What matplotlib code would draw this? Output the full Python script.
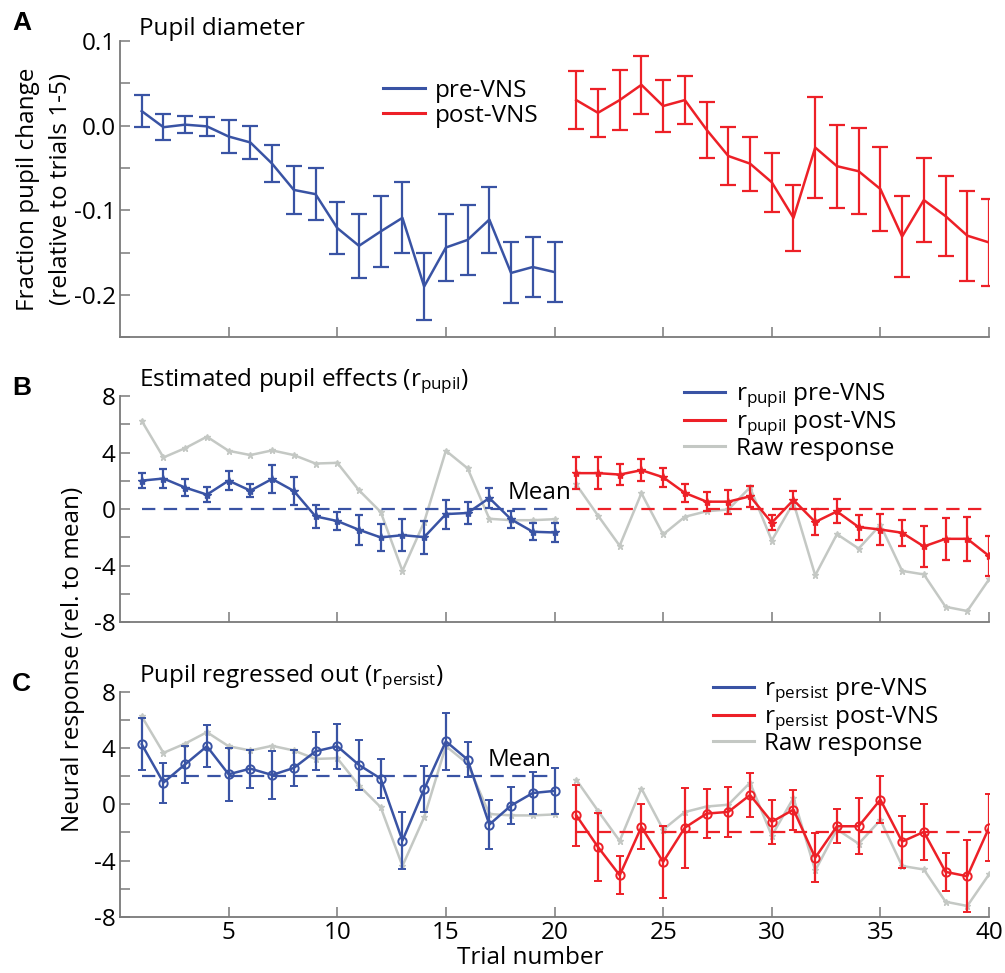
import numpy as np
import matplotlib
matplotlib.use('Agg')
import matplotlib.pyplot as plt
from matplotlib.lines import Line2D

plt.rcParams['font.family'] = ['Open Sans', 'DejaVu Sans']
plt.rcParams['mathtext.fontset'] = 'custom'
plt.rcParams['mathtext.rm'] = 'Open Sans'

# ============================================================
# Data
# ============================================================
trials_pre = np.arange(1, 21)
trials_post = np.arange(21, 41)

pupil_pre = [0.017, -0.002, 0.001, -0.001, -0.013, -0.020, -0.045, -0.076, -0.081, -0.121,
             -0.142, -0.125, -0.109, -0.190, -0.144, -0.135, -0.111, -0.174, -0.167, -0.173]
pupil_pre_err = [0.019, 0.015, 0.010, 0.011, 0.019, 0.019, 0.022, 0.028, 0.031, 0.031,
                 0.038, 0.042, 0.042, 0.039, 0.039, 0.041, 0.039, 0.036, 0.035, 0.035]
pupil_post = [0.030, 0.015, 0.030, 0.048, 0.023, 0.030, -0.005, -0.036, -0.045, -0.067,
              -0.109, -0.026, -0.048, -0.054, -0.075, -0.131, -0.088, -0.107, -0.130, -0.138]
pupil_post_err = [0.034, 0.028, 0.035, 0.034, 0.031, 0.028, 0.033, 0.034, 0.032, 0.035,
                  0.039, 0.060, 0.049, 0.051, 0.050, 0.048, 0.050, 0.047, 0.053, 0.051]

raw_response = [6.24, 3.65, 4.31, 5.12, 4.12, 3.82, 4.15, 3.82, 3.22, 3.27,
                1.33, -0.21, -4.38, -0.92, 4.13, 2.88, -0.69, -0.79, -0.79, -0.72,
                1.74, -0.46, -2.60, 1.12, -1.80, -0.55, -0.16, -0.03, 1.53, -2.23,
                0.45, -4.70, -1.78, -2.80, -1.12, -4.38, -4.63, -6.92, -7.22, -4.98]

rpupil_pre = [2.01, 2.16, 1.52, 1.02, 2.01, 1.30, 2.13, 1.28, -0.52, -0.85,
              -1.47, -2.01, -1.85, -1.99, -0.36, -0.28, 0.78, -0.73, -1.61, -1.66]
rpupil_pre_err = [0.55, 0.67, 0.58, 0.55, 0.69, 0.46, 0.97, 0.97, 0.79, 0.67,
                  1.08, 0.97, 1.13, 1.16, 1.02, 0.77, 0.71, 0.62, 0.59, 0.69]
rpupil_post = [2.54, 2.54, 2.44, 2.75, 2.25, 1.14, 0.52, 0.52, 0.90, -0.97,
               0.64, -0.92, -0.17, -1.28, -1.45, -1.68, -2.65, -2.11, -2.11, -3.32]
rpupil_post_err = [1.13, 1.15, 0.72, 0.76, 0.66, 0.62, 0.68, 0.86, 0.73, 0.55,
                   0.66, 0.89, 0.85, 0.88, 1.10, 0.92, 1.42, 1.47, 1.54, 1.40]

rpersist_pre = [4.26, 1.54, 2.84, 4.12, 2.13, 2.53, 2.08, 2.58, 3.76, 4.12,
                2.79, 1.82, -2.58, 1.07, 4.47, 3.17, -1.44, -0.09, 0.80, 0.95]
rpersist_pre_err = [1.85, 1.42, 1.33, 1.49, 1.90, 1.34, 1.70, 1.25, 1.35, 1.60,
                    1.78, 1.37, 2.05, 1.62, 2.04, 1.23, 1.74, 1.31, 1.46, 1.63]
rpersist_post = [-0.78, -3.03, -5.04, -1.61, -4.09, -1.66, -0.66, -0.54, 0.66, -1.25,
                 -0.38, -3.79, -1.56, -1.56, 0.33, -2.65, -1.96, -4.80, -5.11, -1.66]
rpersist_post_err = [2.15, 2.41, 1.34, 1.60, 2.53, 2.84, 1.72, 1.78, 1.55, 1.54,
                     1.42, 1.75, 1.20, 2.00, 1.66, 1.85, 1.99, 1.37, 2.54, 2.37]

mean_pupil = [0.0, 0.0]       # pre, post
mean_persist = [2.0, -2.0]    # pre, post

# ============================================================
# Styling
# ============================================================
BLUE = '#3953a4'
RED = '#ed2027'
GRAY = '#c4c8c4'
SPINE = '#7a7a7a'
FS = 17.5

fig = plt.figure(figsize=(10.05, 9.73), dpi=100)
left, width = 0.1194, 0.8647
axA = fig.add_axes([left, 0.6533, width, 0.3048])
axB = fig.add_axes([left, 0.3607, width, 0.2323])
axC = fig.add_axes([left, 0.0576, width, 0.2316])


def style_axis(ax):
    for s in ['top', 'right']:
        ax.spines[s].set_visible(False)
    for s in ['left', 'bottom']:
        ax.spines[s].set_color(SPINE)
        ax.spines[s].set_linewidth(1.3)
    ax.tick_params(direction='in', length=7, width=1.1, color=SPINE,
                   labelsize=FS, pad=3)
    ax.set_xlim(0, 40)
    ax.set_xticks(np.arange(5, 41, 5))


def legend_lines(ax, colors, labels, anchor, spacing):
    handles = [Line2D([], [], color=c, lw=2.2) for c in colors]
    ax.legend(handles, labels, loc='upper left', bbox_to_anchor=anchor,
              frameon=False, fontsize=FS, handlelength=1.7, handletextpad=0.42,
              labelspacing=spacing, borderaxespad=0, borderpad=0)


# ------------------------------------------------------------
# A: pupil diameter
# ------------------------------------------------------------
style_axis(axA)
axA.errorbar(trials_pre, pupil_pre, yerr=pupil_pre_err, color=BLUE, lw=1.8,
             elinewidth=1.6, capsize=5.5, capthick=1.6)
axA.errorbar(trials_post, pupil_post, yerr=pupil_post_err, color=RED, lw=1.8,
             elinewidth=1.6, capsize=5.5, capthick=1.6)
yt = np.arange(-0.25, 0.101, 0.05)
axA.set_ylim(-0.25, 0.1)
axA.set_yticks(yt)
axA.set_yticklabels(['' if round(v * 20) % 2 else f'{abs(v) if abs(v) < 1e-9 else v:.1f}'
                     for v in yt])
axA.set_xticklabels([])
axA.set_ylabel('Fraction pupil change\n(relative to trials 1-5)', fontsize=FS,
               linespacing=1.5)
axA.yaxis.set_label_coords(-0.054, 0.5)
legend_lines(axA, [BLUE, RED], ['pre-VNS', 'post-VNS'], (0.303, 0.872), 0.05)
axA.set_title('Pupil diameter', loc='left', fontsize=FS, x=0.022, pad=3)


# ------------------------------------------------------------
# B / C: neural response
# ------------------------------------------------------------
def response_panel(ax, pre, pre_err, post, post_err, means, marker, cap):
    style_axis(ax)
    ax.plot(trials_pre, raw_response[:20], color=GRAY, lw=1.8, marker='*', ms=5,
            zorder=1)
    ax.plot(trials_post, raw_response[20:], color=GRAY, lw=1.8, marker='*', ms=5,
            zorder=1)
    ax.plot([trials_pre[0], trials_pre[-1]], [means[0], means[0]], color=BLUE,
            lw=1.6, linestyle=(0, (6, 3.8)), zorder=2)
    ax.plot([trials_post[0], trials_post[-1]], [means[1], means[1]], color=RED,
            lw=1.6, linestyle=(0, (6, 3.8)), zorder=2)
    mkw = dict(ms=6, mfc='none', mew=1.4) if marker == 'o' else dict(ms=6)
    ax.errorbar(trials_pre, pre, yerr=pre_err, color=BLUE, lw=1.8, marker=marker,
                elinewidth=1.6, capsize=cap, capthick=1.6, zorder=3, **mkw)
    ax.errorbar(trials_post, post, yerr=post_err, color=RED, lw=1.8, marker=marker,
                elinewidth=1.6, capsize=cap, capthick=1.6, zorder=3, **mkw)
    ax.set_ylim(-8, 8)
    ax.set_yticks(np.arange(-8, 9, 2))
    ax.set_yticklabels([str(v) if v % 4 == 0 else '' for v in range(-8, 9, 2)])


response_panel(axB, rpupil_pre, rpupil_pre_err, rpupil_post, rpupil_post_err,
               mean_pupil, '*', 3.2)
axB.set_xticklabels([])
axB.text(0.446, 0.57, 'Mean', transform=axB.transAxes, fontsize=FS,
         ha='left', va='center')
axB.set_title(r'Estimated pupil effects ($\mathregular{r_{pupil}}$)', loc='left',
              fontsize=FS, x=0.022, pad=2)
legend_lines(axB, [BLUE, RED, GRAY],
             [r'$\mathregular{r_{pupil}}$ pre-VNS', r'$\mathregular{r_{pupil}}$ post-VNS',
              'Raw response'], (0.649, 1.064), -0.04)

response_panel(axC, rpersist_pre, rpersist_pre_err, rpersist_post, rpersist_post_err,
               mean_persist, 'o', 2.8)
axC.text(0.423, 0.695, 'Mean', transform=axC.transAxes, fontsize=FS,
         ha='left', va='center')
axC.set_title(r'Pupil regressed out ($\mathregular{r_{persist}}$)', loc='left',
              fontsize=FS, x=0.022, pad=2)
axC.set_xlabel('Trial number', fontsize=FS)
axC.xaxis.set_label_coords(0.472, -0.13)
legend_lines(axC, [BLUE, RED, GRAY],
             [r'$\mathregular{r_{persist}}$ pre-VNS', r'$\mathregular{r_{persist}}$ post-VNS',
              'Raw response'], (0.682, 1.066), -0.05)

fig.text(0.073, 0.322, 'Neural response (rel. to mean)', rotation=90, fontsize=FS,
         ha='center', va='center')

# panel letters
for letter, y in [('A', 0.976), ('B', 0.601), ('C', 0.297)]:
    fig.text(0.012, y, letter, fontsize=19, fontweight='bold',
             family=['Liberation Sans', 'DejaVu Sans'], ha='left', va='center')

fig.savefig('out.png', dpi=100)
